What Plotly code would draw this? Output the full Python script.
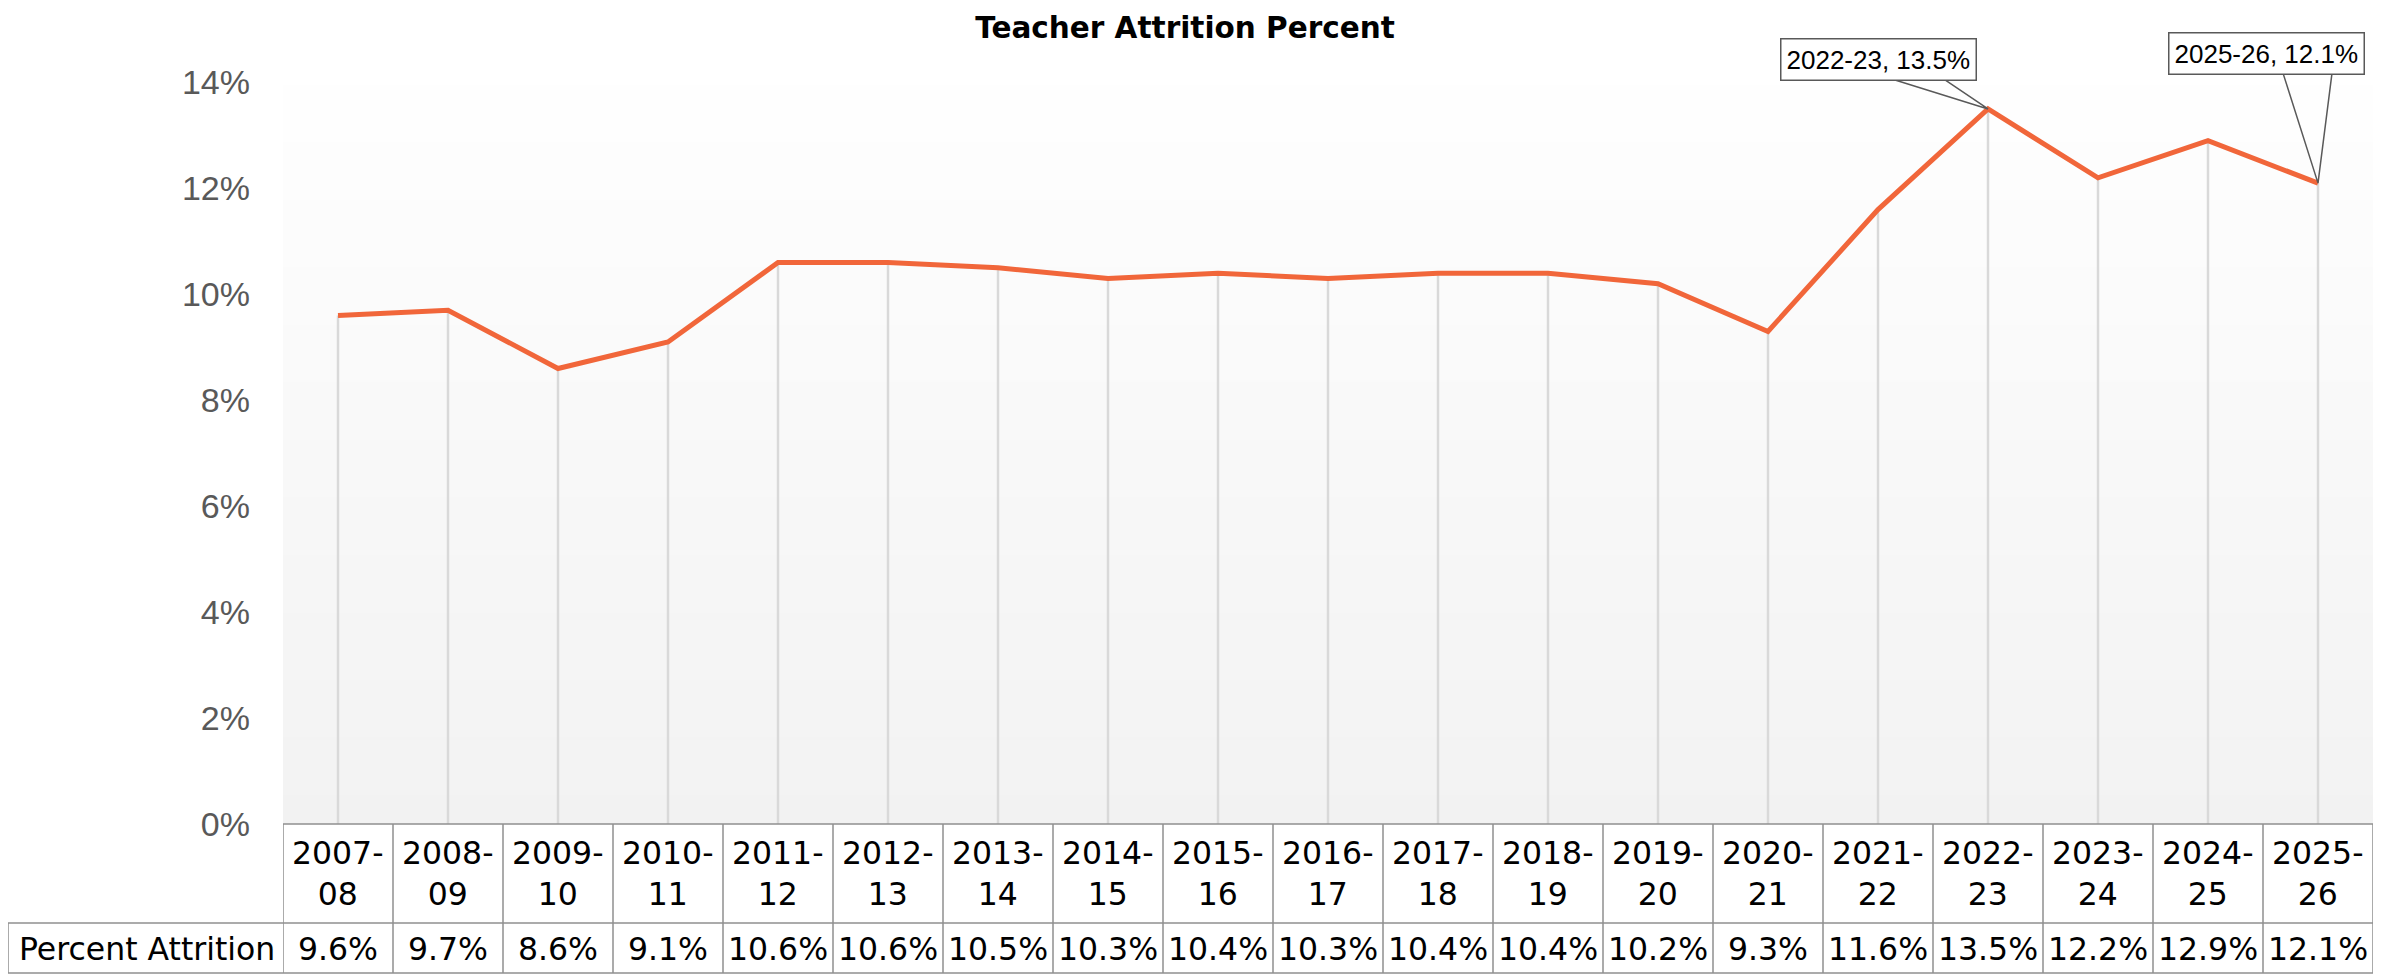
import plotly.graph_objects as go

# ---------------- data ----------------
categories = ["2007-08", "2008-09", "2009-10", "2010-11", "2011-12", "2012-13",
              "2013-14", "2014-15", "2015-16", "2016-17", "2017-18", "2018-19",
              "2019-20", "2020-21", "2021-22", "2022-23", "2023-24", "2024-25",
              "2025-26"]
attrition = [9.6, 9.7, 8.6, 9.1, 10.6, 10.6, 10.5, 10.3, 10.4, 10.3, 10.4, 10.4,
             10.2, 9.3, 11.6, 13.5, 12.2, 12.9, 12.1]
y_ticks = [0, 2, 4, 6, 8, 10, 12, 14]
row_label = "Percent Attrition"
title_text = "Teacher Attrition Percent"
callouts = ["2022-23", "2025-26"]

# ---------------- layout geometry (pixels) ----------------
W, H = 2391, 974
OFF = 8                      # page body margin offset
PLOT_L, PLOT_R, PLOT_T, PLOT_B = 283, 2373, 56, 824   # target screen pixels
ML = PLOT_L - OFF
MR = W - (PLOT_R - OFF)
MT = PLOT_T - OFF
MB = H - (PLOT_B - OFF)
PH = H - MT - MB
PW = W - ML - MR


def py(px):
    """screen pixel (from top) -> paper y"""
    return (PLOT_B - px) / PH


def pxx(px):
    """screen pixel (from left) -> paper x"""
    return (px - PLOT_L) / PW


LINE_COLOR = "#f1663a"
DROP_COLOR = "#d9d9d9"
BORDER = "#8f8f8f"
TABLE_FONT = dict(family="DejaVu Sans", size=31.5, color="#000000")

fig = go.Figure()

# drop lines from 0 to each value
dx, dy = [], []
for c, v in zip(categories, attrition):
    dx += [c, c, None]
    dy += [0, v, None]
fig.add_trace(go.Scatter(x=dx, y=dy, mode="lines",
                         line=dict(color=DROP_COLOR, width=2.5),
                         hoverinfo="skip", showlegend=False))

# main line
fig.add_trace(go.Scatter(x=categories, y=attrition, mode="lines",
                         line=dict(color=LINE_COLOR, width=5),
                         showlegend=False, name=row_label))

shapes = []
# gradient plot background
N = 80
for k in range(N):
    t0, t1 = k / N, (k + 1) / N
    t = (t0 + t1) / 2
    g = round(242 + (255 - 242) * t)
    shapes.append(dict(type="rect", xref="paper", yref="paper", x0=0, x1=1,
                       y0=t0, y1=t1 + 0.001, layer="below", line=dict(width=0),
                       fillcolor=f"rgb({g},{g},{g})"))

# data table borders
n = len(categories)
bl = dict(color=BORDER, width=1.5)
shapes.append(dict(type="line", xref="x", yref="paper", x0=-0.5, x1=n - 0.5,
                   y0=0, y1=0, line=bl))
for yy in (923, 973):
    shapes.append(dict(type="line", xref="paper", yref="paper", x0=pxx(8), x1=1,
                       y0=py(yy), y1=py(yy), line=bl))
for i in range(n + 1):
    shapes.append(dict(type="line", xref="x", yref="paper", x0=i - 0.5, x1=i - 0.5,
                       y0=0, y1=py(973), line=bl))
shapes.append(dict(type="line", xref="paper", yref="paper", x0=pxx(8), x1=pxx(8),
                   y0=py(923), y1=py(973), line=bl))

annotations = []
for c, v in zip(categories, attrition):
    annotations.append(dict(x=c, xref="x", y=py(873), yref="paper",
                            text=c.replace("-", "-<br>"), showarrow=False,
                            xanchor="center", yanchor="middle", font=TABLE_FONT))
    annotations.append(dict(x=c, xref="x", y=py(948.5), yref="paper",
                            text=f"{v:.1f}%", showarrow=False,
                            xanchor="center", yanchor="middle", font=TABLE_FONT))
annotations.append(dict(x=pxx(146.5), xref="paper", y=py(948.5), yref="paper",
                        text=row_label, showarrow=False, xanchor="center",
                        yanchor="middle", font=TABLE_FONT))

# callouts: box offset (px) and wedge base (px, relative to the point, y up)
box_offset = {"2022-23": (-110, 49), "2025-26": (-52, 130)}
wedge_base = {"2022-23": (-93, -43, 29), "2025-26": (-35, 14, 110)}
for c in callouts:
    v = attrition[categories.index(c)]
    bx0, bx1, by = wedge_base[c]
    shapes.append(dict(type="path", xref="x", yref="y", xsizemode="pixel",
                       ysizemode="pixel", xanchor=c, yanchor=v,
                       path=f"M {bx0},{by} L 0,0 L {bx1},{by}",
                       line=dict(color="#595959", width=1.5)))
    ox, oy = box_offset[c]
    annotations.append(dict(x=c, xref="x", y=v, yref="y", text=f"{c}, {v:.1f}%",
                            showarrow=False, xshift=ox, yshift=oy,
                            xanchor="center", yanchor="middle",
                            font=dict(family="Liberation Sans", size=26, color="#000000"),
                            bgcolor="#ffffff", bordercolor="#595959",
                            borderwidth=1.5, borderpad=5))

fig.update_layout(
    width=W, height=H,
    margin=dict(l=ML, r=MR, t=MT, b=MB),
    paper_bgcolor="#ffffff", plot_bgcolor="#ffffff",
    title=dict(text=title_text, x=(1185 - OFF) / W, xref="container", xanchor="center",
               y=1 - 20 / H, yref="container", yanchor="middle",
               font=dict(family="DejaVu Sans", size=29.5, color="#000000", weight=700)),
    xaxis=dict(type="category", categoryorder="array", categoryarray=categories,
               range=[-0.5, n - 0.5], showticklabels=False, showgrid=False,
               zeroline=False, showline=False, ticks=""),
    yaxis=dict(range=[0, 14.5], tickvals=y_ticks,
               ticktext=[f"{t}%" for t in y_ticks], showgrid=False,
               zeroline=False, showline=False, ticks="", ticklabelstandoff=32,
               tickfont=dict(family="Liberation Sans", size=34, color="#595959")),
    shapes=shapes, annotations=annotations, showlegend=False,
)

fig.write_html("out.html")
